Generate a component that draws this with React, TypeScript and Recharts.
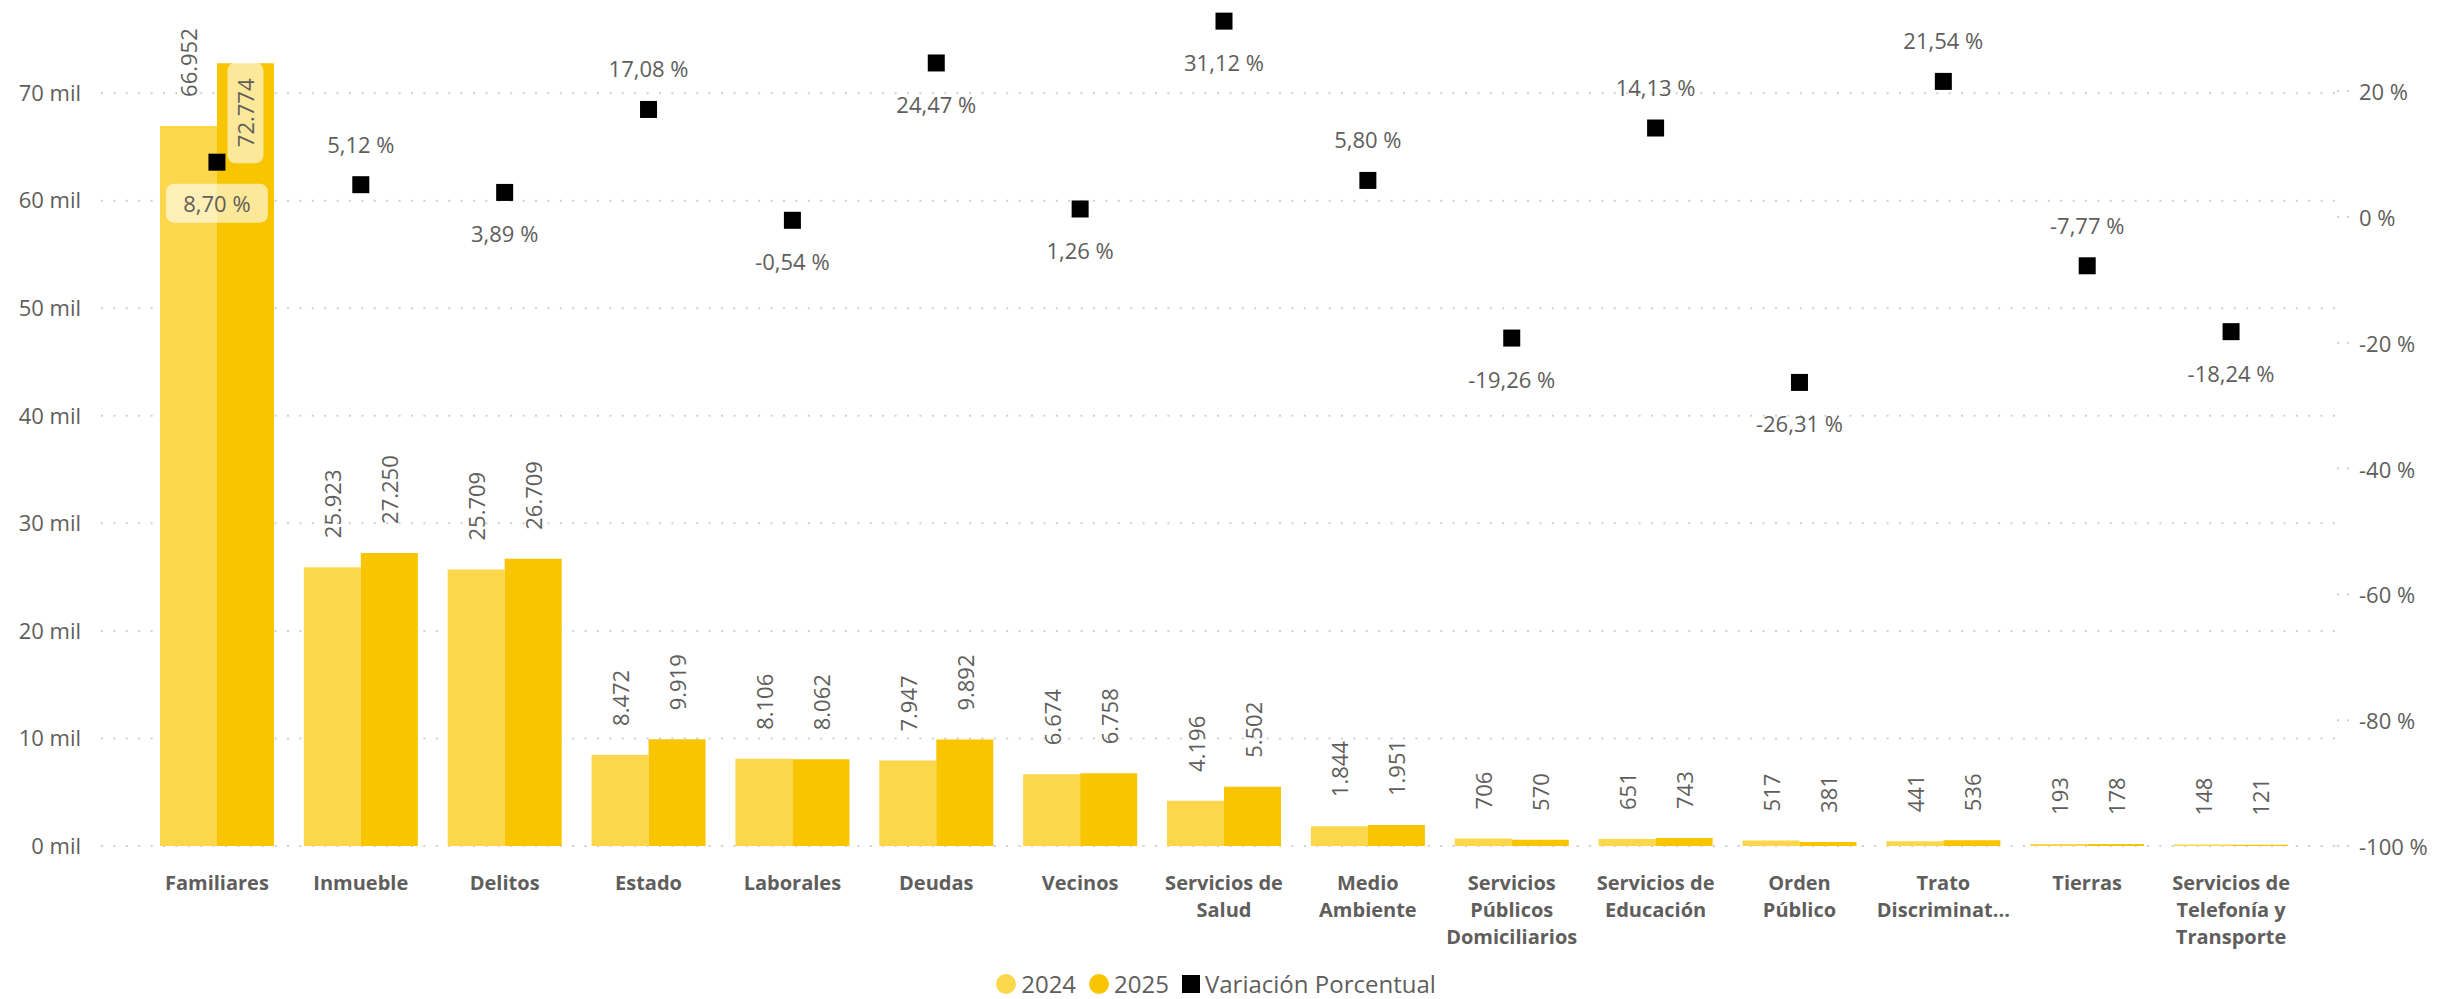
import React from 'react';
import {
  ComposedChart, Bar, Scatter, XAxis, YAxis, CartesianGrid, Legend, LabelList,
} from 'recharts';

const categories = [
  'Familiares', 'Inmueble', 'Delitos', 'Estado', 'Laborales', 'Deudas', 'Vecinos',
  'Servicios de Salud', 'Medio Ambiente', 'Servicios Públicos Domiciliarios',
  'Servicios de Educación', 'Orden Público', 'Trato Discriminatorio', 'Tierras',
  'Servicios de Telefonía y Transporte',
];

// how the axis breaks each category name (as drawn in the report)
const tickLabels = [
  ['Familiares'], ['Inmueble'], ['Delitos'], ['Estado'], ['Laborales'], ['Deudas'], ['Vecinos'],
  ['Servicios de', 'Salud'], ['Medio', 'Ambiente'], ['Servicios', 'Públicos', 'Domiciliarios'],
  ['Servicios de', 'Educación'], ['Orden', 'Público'], ['Trato', 'Discriminat...'], ['Tierras'],
  ['Servicios de', 'Telefonía y', 'Transporte'],
];

const values2024 = [66952, 25923, 25709, 8472, 8106, 7947, 6674, 4196, 1844, 706, 651, 517, 441, 193, 148];
const values2025 = [72774, 27250, 26709, 9919, 8062, 9892, 6758, 5502, 1951, 570, 743, 381, 536, 178, 121];
const variation = [8.7, 5.12, 3.89, 17.08, -0.54, 24.47, 1.26, 31.12, 5.8, -19.26, 14.13, -26.31, 21.54, -7.77, -18.24];

const leftTicks = [0, 10000, 20000, 30000, 40000, 50000, 60000, 70000];
const rightTicks = [-100, -80, -60, -40, -20, 0, 20];

// where the % label sits relative to its marker
const pctLabelSide = ['below', 'above', 'below', 'above', 'below', 'below', 'below', 'below',
  'above', 'below', 'above', 'below', 'above', 'above', 'below'];

const C2024 = '#FCD64B';
const C2025 = '#F8C500';
const TEXT = '#605E5C';
const GRID = '#CFCFCF';
const FONT = "'Segoe UI', 'Open Sans', sans-serif";
const PLOT_TOP = 20;

const rows = categories.map((c, i) => ({
  category: c,
  v2024: values2024[i],
  v2025: values2025[i],
  pct: variation[i],
  side: pctLabelSide[i],
}));

const fmtInt = (v: number) => v.toLocaleString('de-DE');
const fmtPct = (v: number) => v.toFixed(2).replace('.', ',') + ' %';

const BarValue = (props: any) => {
  const { x, y, width, value } = props;
  const cx = x + width / 2;
  const text = fmtInt(value);
  const len = text.length * 11.8;
  const gap = 29;
  if (y - gap - len < PLOT_TOP) {
    // no room above: draw inside the bar top with a light box
    const bh = 101;
    const by = y - 1;
    return (
      <g>
        <rect x={cx - 18} y={by} width={36} height={bh} rx={8} fill="rgba(255,255,255,0.6)" />
        <text x={cx} y={by + bh / 2} transform={`rotate(-90 ${cx} ${by + bh / 2})`}
          textAnchor="middle" dominantBaseline="central" fontFamily={FONT} fontSize={22} fill={TEXT}>
          {text}
        </text>
      </g>
    );
  }
  const ay = y - gap;
  return (
    <text x={cx} y={ay} transform={`rotate(-90 ${cx} ${ay})`} textAnchor="start"
      dominantBaseline="central" fontFamily={FONT} fontSize={22} fill={TEXT}>
      {text}
    </text>
  );
};

const Marker = (props: any) => {
  const { cx, cy, payload } = props;
  const ly = payload.side === 'above' ? cy - 41 : cy + 41;
  // label over a bar gets a light backing box
  const boxed = payload.pct > 0 && payload.v2024 > 40000;
  return (
    <g>
      <rect x={cx - 8.5} y={cy - 8.5} width={17} height={17} fill="#000" />
      {boxed && <rect x={cx - 51} y={ly - 19.5} width={102} height={39} rx={8} fill="rgba(255,255,255,0.6)" />}
      <text x={cx} y={ly} textAnchor="middle" dominantBaseline="central"
        fontFamily={FONT} fontSize={22} fill={TEXT}>
        {fmtPct(payload.pct)}
      </text>
    </g>
  );
};

const CategoryTick = (props: any) => {
  const { x, y, index } = props;
  const lines = tickLabels[index] || [];
  return (
    <text x={x} y={y + 36} textAnchor="middle" fontFamily={FONT} fontSize={20} fontWeight={700} fill={TEXT}>
      {lines.map((l, i) => (
        <tspan key={i} x={x} dy={i === 0 ? 0 : 27}>{l}</tspan>
      ))}
    </text>
  );
};

const RightTick = (props: any) => {
  const { x, y, payload } = props;
  return (
    <g>
      <line x1={x - 22} x2={x - 10} y1={y} y2={y} stroke={GRID} strokeWidth={2} strokeDasharray="2 8" />
      <text x={x} y={y} dominantBaseline="central" fontFamily={FONT} fontSize={22} fill={TEXT}>
        {`${payload.value} %`}
      </text>
    </g>
  );
};

// skip the border line the grid adds at the very top of the plot
const GridLine = (props: any) => {
  const { x1, x2, y1, y2 } = props;
  if (y1 < PLOT_TOP + 3) return <g />;
  return <line x1={x1} x2={x2} y1={y1} y2={y2} stroke={GRID} strokeWidth={2} strokeDasharray="2 10.4" />;
};

const LegendContent = (props: any) => {
  const { payload = [] } = props;
  return (
    <div style={{ display: 'flex', justifyContent: 'center', alignItems: 'center', height: 30,
      fontFamily: FONT, fontSize: 24, lineHeight: '30px', color: TEXT }}>
      {payload.map((p: any) => (
        <div key={p.value} style={{ display: 'flex', alignItems: 'center', marginRight: 13 }}>
          <span style={{ width: p.type === 'square' ? 18 : 20, height: p.type === 'square' ? 18 : 20,
            borderRadius: p.type === 'square' ? 0 : 10, background: p.color, marginRight: 5 }} />
          <span>{p.value}</span>
        </div>
      ))}
    </div>
  );
};

export default function App() {
  return (
    <div style={{ position: 'absolute', left: 0, top: 0, background: '#fff' }}>
      <ComposedChart width={2445} height={999} data={rows}
        margin={{ top: PLOT_TOP, right: 0, left: 0, bottom: 0 }} barCategoryGap="10.4%" barGap={0}>
        <CartesianGrid yAxisId="left" vertical={false} horizontal={(p: any) => <GridLine {...p} />} />
        <XAxis dataKey="category" interval={0} tickLine={false} axisLine={false} height={123}
          padding={{ left: 44, right: 40 }} tick={<CategoryTick />} />
        <YAxis yAxisId="left" width={101} domain={[0, 76800]} ticks={leftTicks} tickLine={false}
          axisLine={false} tickSize={0} tickMargin={20}
          tick={{ fontFamily: FONT, fontSize: 22, fill: TEXT }}
          tickFormatter={(v: number) => `${v / 1000} mil`} />
        <YAxis yAxisId="right" orientation="right" width={102} domain={[-100, 31.3]} ticks={rightTicks}
          tickLine={false} axisLine={false} tickSize={0} tickMargin={16}
          tick={<RightTick />} />
        <Bar yAxisId="left" dataKey="v2024" name="2024" fill={C2024} legendType="circle" isAnimationActive={false}>
          <LabelList dataKey="v2024" content={<BarValue />} />
        </Bar>
        <Bar yAxisId="left" dataKey="v2025" name="2025" fill={C2025} legendType="circle" isAnimationActive={false}>
          <LabelList dataKey="v2025" content={<BarValue />} />
        </Bar>
        <Scatter yAxisId="right" dataKey="pct" name="Variación Porcentual" fill="#000" legendType="square"
          shape={<Marker />} isAnimationActive={false} />
        <Legend verticalAlign="bottom" align="center" content={<LegendContent />} />
      </ComposedChart>
    </div>
  );
}
